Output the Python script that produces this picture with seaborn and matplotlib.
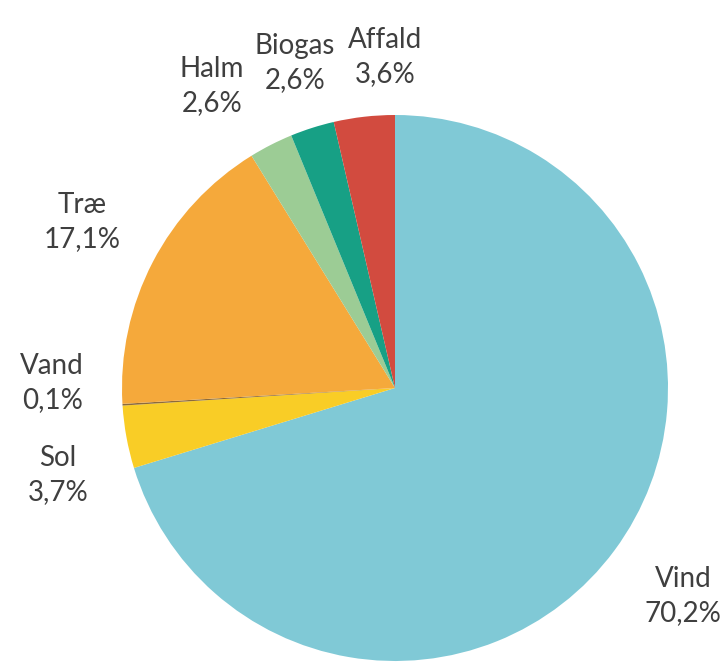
import matplotlib
matplotlib.use("Agg")
import matplotlib.pyplot as plt
import seaborn as sns

# Data (clockwise from top)
labels = ["Vind", "Sol", "Vand", "Træ", "Halm", "Biogas", "Affald"]
shares = [70.2, 3.7, 0.1, 17.1, 2.6, 2.6, 3.6]
colors = ["#80C9D6", "#F9CD26", "#8C6A3A", "#F5A93B", "#9CCC95", "#17A085", "#D24B3F"]

# label centres in pie units (radius = 1)
label_x = [1.055, -1.234, -1.256, -1.147, -0.670, -0.366, -0.037]
label_y = [-0.762, -0.319, 0.018, 0.608, 1.106, 1.190, 1.212]

sns.set_theme(style="white")
plt.rcParams["font.family"] = ["Lato", "DejaVu Sans"]

fig = plt.figure(figsize=(7.23, 6.70), dpi=100)
ax = fig.add_axes([0, 0, 1, 1])

ax.pie(shares, colors=colors, startangle=90, counterclock=False, radius=1,
       wedgeprops=dict(linewidth=0))

for name, val, x, y in zip(labels, shares, label_x, label_y):
    txt = f"{name}\n{val:.1f}%".replace(".", ",")
    ax.text(x, y, txt, ha="center", va="center", fontsize=20,
            color="#3F3F3F", linespacing=1.4)

ax.set_xlim(-395 / 273, (723 - 395) / 273)
ax.set_ylim((388 - 670) / 273, 388 / 273)
ax.set_aspect("equal")
ax.axis("off")

fig.savefig("out.png", dpi=100, facecolor="white")
